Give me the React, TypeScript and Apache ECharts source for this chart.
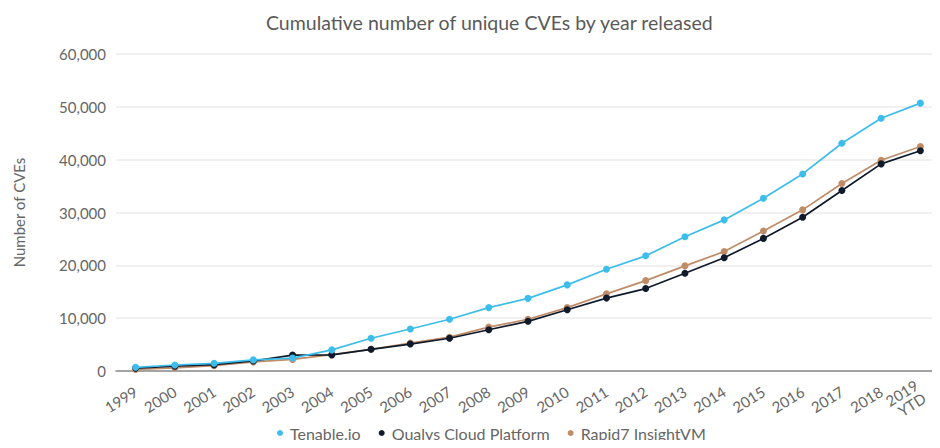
import React, { useEffect, useRef } from "react";
import * as echarts from "echarts";

const years = ["1999", "2000", "2001", "2002", "2003", "2004", "2005", "2006", "2007", "2008", "2009", "2010", "2011", "2012", "2013", "2014", "2015", "2016", "2017", "2018", "2019\nYTD"];
const tenable = [700, 1140, 1460, 2100, 2450, 4000, 6200, 7950, 9800, 12000, 13750, 16300, 19250, 21800, 25400, 28600, 32700, 37300, 43100, 47850, 50700];
const qualys = [550, 900, 1200, 1900, 3000, 3050, 4100, 5100, 6200, 7800, 9400, 11600, 13800, 15600, 18500, 21450, 25100, 29100, 34150, 39200, 41700];
const rapid7 = [300, 600, 1000, 1700, 2200, 3100, 4100, 5300, 6400, 8300, 9800, 12000, 14600, 17100, 19900, 22600, 26500, 30500, 35500, 39900, 42500];
const yTicks = [0, 10000, 20000, 30000, 40000, 50000, 60000];

const FONT = "Lato, 'Noto Sans', sans-serif";

export default function App() {
  const ref = useRef<HTMLDivElement>(null);
  useEffect(() => {
    if (!ref.current) return;
    const chart = echarts.init(ref.current, undefined, { renderer: "svg" });
    const mk = (name: string, data: number[], color: string, z: number) => ({
      name,
      type: "line",
      data,
      z,
      symbol: "circle",
      symbolSize: 7,
      lineStyle: { color, width: 1.7 },
      itemStyle: { color },
    });
    chart.setOption({
      animation: false,
      textStyle: { fontFamily: FONT },
      title: {
        text: "Cumulative number of unique CVEs by year released",
        left: 261,
        top: 7,
        textStyle: { fontFamily: FONT, fontSize: 19.5, fontWeight: "normal", color: "#5a5a5a" },
      },
      legend: {
        bottom: 2,
        left: 272,
        icon: "circle",
        itemWidth: 6,
        itemHeight: 6,
        itemGap: 18,
        textStyle: { fontFamily: FONT, fontSize: 16, color: "#666", padding: [0, 0, 0, 2] },
        data: ["Tenable.io", "Qualys Cloud Platform", "Rapid7 InsightVM"],
      },
      grid: { left: 116, right: -7, top: 54, bottom: 77 },
      xAxis: {
        type: "category",
        data: years,
        boundaryGap: true,
        axisLine: { lineStyle: { color: "#8a8a8a", width: 1.5 } },
        axisTick: { show: false },
        axisLabel: {
          rotate: 32,
          interval: 0,
          margin: 19,
          fontFamily: FONT,
          fontSize: 15,
          color: "#666",
          lineHeight: 15,
        },
      },
      yAxis: {
        type: "value",
        min: 0,
        max: 60000,
        interval: 10000,
        name: "Number of CVEs",
        nameLocation: "middle",
        nameGap: 90,
        nameTextStyle: { fontFamily: FONT, fontSize: 15, color: "#666" },
        axisLine: { show: false },
        axisTick: { show: false },
        axisLabel: {
          margin: 10,
          fontFamily: FONT,
          fontSize: 15,
          color: "#666",
          formatter: (v: number) => (yTicks.includes(v) ? v.toLocaleString("en-US") : ""),
        },
        splitLine: { lineStyle: { color: "#ebebeb", width: 1.5 } },
      },
      series: [
        mk("Tenable.io", tenable, "#3dbdec", 5),
        mk("Qualys Cloud Platform", qualys, "#0f1a2b", 4),
        mk("Rapid7 InsightVM", rapid7, "#c08c68", 3),
      ],
    });
    return () => chart.dispose();
  }, []);
  return <div ref={ref} style={{ width: 940, height: 448, margin: -8 }} />;
}
